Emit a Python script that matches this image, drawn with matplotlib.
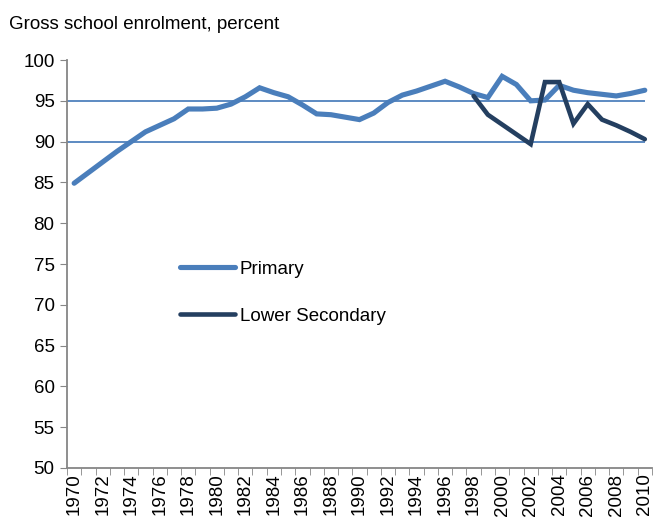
import numpy as np
import matplotlib.pyplot as plt

plt.rcParams['font.family'] = ['Liberation Sans', 'DejaVu Sans']

# ---- data ----
years = list(range(1970, 2011))
primary = [84.9, 86.2, 87.5, 88.8, 90.0, 91.2, 92.0, 92.8, 94.0, 94.0,
           94.1, 94.6, 95.5, 96.6, 96.0, 95.5, 94.5, 93.4, 93.3, 93.0,
           92.7, 93.5, 94.8, 95.7, 96.2, 96.8, 97.4, 96.7, 95.9, 95.4,
           98.0, 97.0, 95.0, 95.1, 96.9, 96.3, 96.0, 95.8, 95.6, 95.9,
           96.3]
lower_sec_years = list(range(1998, 2011))
lower_sec = [95.6, 93.3, 92.1, 90.9, 89.7, 97.3, 97.3, 92.2, 94.6, 92.7,
             92.0, 91.2, 90.3]
ref_lines = [90, 95]

c_primary = '#4A7EBB'
c_lower = '#243F60'
c_axis = '#868686'

fig = plt.figure(figsize=(6.55, 5.23), dpi=100)
ax = fig.add_axes([0.1023, 0.1052, 0.893, 0.780])

idx = {y: i for i, y in enumerate(years)}
x_p = [idx[y] for y in years]
x_l = [idx[y] for y in lower_sec_years]

ax.hlines(ref_lines, -0.5, 40, colors='#4F81BD', linewidth=1.3, zorder=1)

ax.plot(x_p, primary, color=c_primary, lw=3.7, solid_capstyle='round',
        solid_joinstyle='miter', label='Primary', zorder=3)
ax.plot(x_l, lower_sec, color=c_lower, lw=3.3, solid_capstyle='round',
        solid_joinstyle='miter', label='Lower Secondary', zorder=4)

ax.set_xlim(-0.5, len(years) - 0.5)
ax.set_ylim(50, 100)
ax.set_yticks(np.arange(50, 101, 5))

ax.set_xticks(range(0, len(years), 2))
ax.set_xticklabels([str(y) for y in years[::2]], rotation=90)
ax.set_xticks(np.arange(-0.5, len(years), 1), minor=True)
ax.tick_params(axis='x', which='major', length=0, pad=4, labelsize=13.5)
ax.tick_params(axis='x', which='minor', length=5, color=c_axis, direction='out')
ax.tick_params(axis='y', length=5, color=c_axis, direction='out', labelsize=13.5, pad=4)

for s in ['top', 'right']:
    ax.spines[s].set_visible(False)
for s in ['left', 'bottom']:
    ax.spines[s].set_color(c_axis)
    ax.spines[s].set_linewidth(1.3)

fig.text(0.014, 0.953, 'Gross school enrolment, percent', fontsize=13.5, va='center')

leg = ax.legend(loc='upper left', bbox_to_anchor=(0.164, 0.55), frameon=False,
                fontsize=13.5, handlelength=2.95, handletextpad=0.25,
                labelspacing=1.6)

fig.savefig('out.png', dpi=100)
